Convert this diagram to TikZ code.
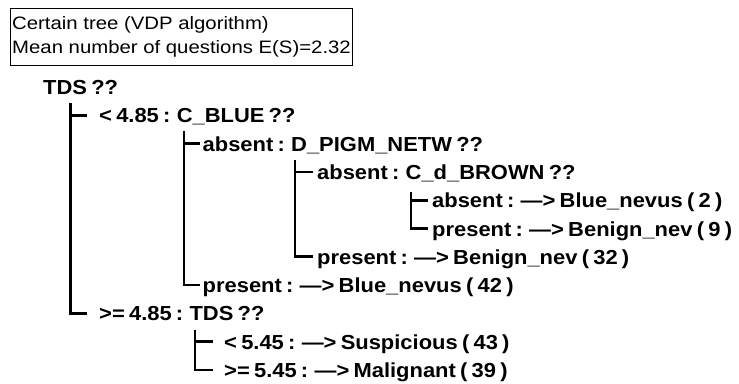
\documentclass[tikz,border=0pt]{standalone}
\usepackage{fontspec}
\newfontfamily\boxfont[FakeStretch=1.13]{Liberation Sans}
\newfontfamily\treefont[FakeStretch=1.08,WordSpace=0.7]{Liberation Sans}
\begin{document}
\begin{tikzpicture}[x=1pt,y=-1pt,
  conn/.style={line width=2.7pt},
  infotext/.style={anchor=base west,inner sep=0pt,font=\boxfont\fontsize{18}{22}\selectfont},
  tnode/.style={anchor=base west,inner ysep=0pt,text height=15pt,text depth=0pt,
    font=\treefont\bfseries\fontsize{20.3}{24}\selectfont},
]
\useasboundingbox (0,0) rectangle (739,383);
\fill[white] (0,0) rectangle (739,383);
% info box
\node (info) [draw,line width=1pt,anchor=north west,minimum width=342pt,minimum height=57pt,inner sep=0pt] at (10,8) {};
\node (l1) [infotext] at (12,29) {Certain tree (VDP algorithm)};
\node (l2) [infotext] at (12,53) {Mean number of questions E(S)=2.32};
% tree texts
\node[tnode,inner xsep=0pt] (t1) at (43,94.5) {TDS ??};
\node[tnode,inner xsep=12pt] (t2) at (87,122.8) {< 4.85 : C\_BLUE ??};
\node[tnode,inner xsep=2.5pt] (t3) at (200,151.1) {absent : D\_PIGM\_NETW ??};
\node[tnode,inner xsep=4pt] (t4) at (313,179.4) {absent : C\_d\_BROWN ??};
\node[tnode,inner xsep=4pt] (t5) at (428,207.7) {absent : —> Blue\_nevus ( 2 )};
\node[tnode,inner xsep=4pt] (t6) at (428,236.0) {present : —> Benign\_nev ( 9 )};
\node[tnode,inner xsep=4pt] (t7) at (313,264.3) {present : —> Benign\_nev ( 32 )};
\node[tnode,inner xsep=2.5pt] (t8) at (200,292.6) {present : —> Blue\_nevus ( 42 )};
\node[tnode,inner xsep=12pt] (t9) at (87,320.9) {>= 4.85 : TDS ??};
\node[tnode,inner xsep=11pt] (t10) at (213,349.2) {< 5.45 : —> Suspicious ( 43 )};
\node[tnode,inner xsep=11pt] (t11) at (213,377.5) {>= 5.45 : —> Malignant ( 39 )};
% connector tops
\coordinate (v1) at (70.5,103);
\coordinate (v2) at (184,131);
\coordinate (v3) at (295,160);
\coordinate (v4) at (411,192);
\coordinate (v5) at (195,330);
% connectors
\draw[conn] (v1) |- (t2.west);
\draw[conn] (v1) |- (t9.west);
\draw[conn] (v2) |- (t3.west);
\draw[conn] (v2) |- (t8.west);
\draw[conn] (v3) |- (t4.west);
\draw[conn] (v3) |- (t7.west);
\draw[conn] (v4) |- (t5.west);
\draw[conn] (v4) |- (t6.west);
\draw[conn] (v5) |- (t10.west);
\draw[conn] (v5) |- (t11.west);
\end{tikzpicture}
\end{document}
